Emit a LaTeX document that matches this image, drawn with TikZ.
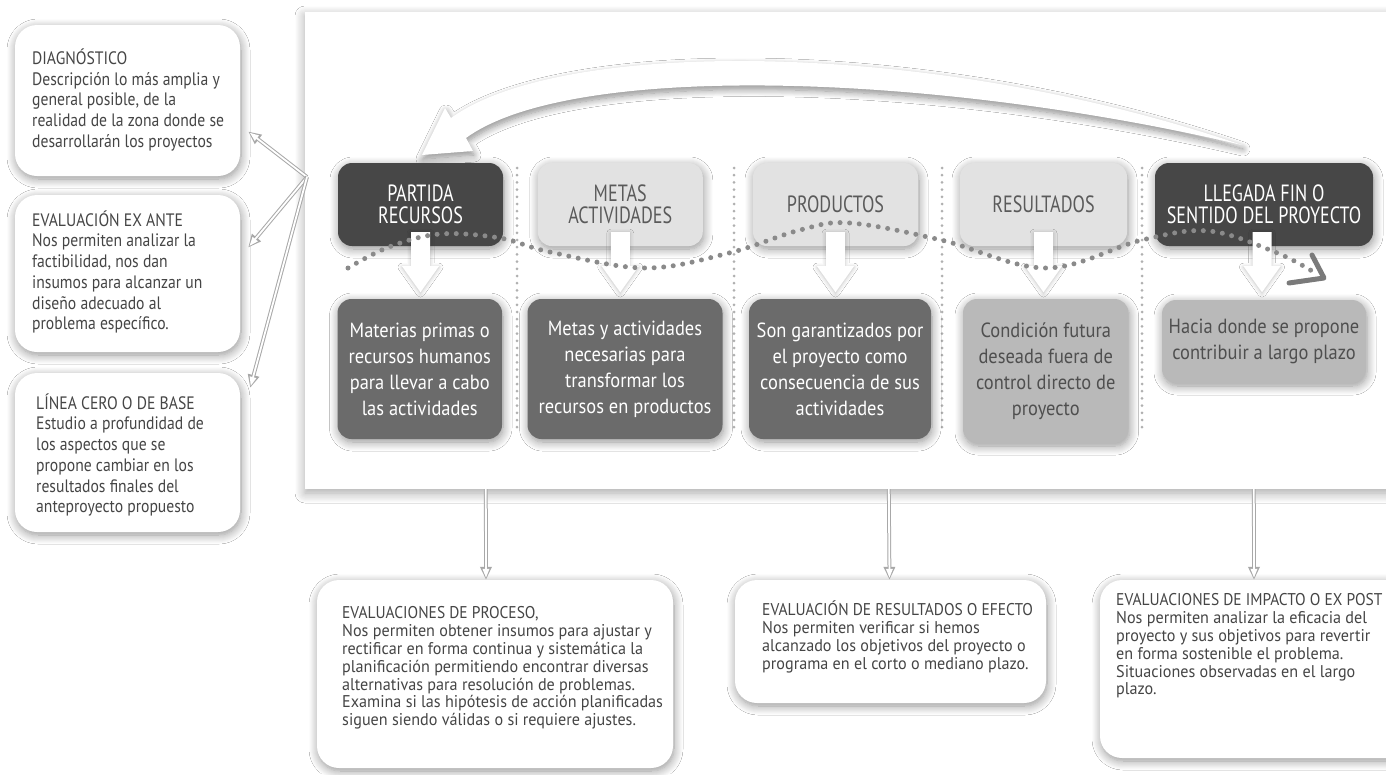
\documentclass[tikz,border=0pt]{standalone}
\usepackage{fontspec}
\setmainfont{PT Sans}[FakeStretch=0.9]
\newfontfamily\topfam{PT Sans}[FakeStretch=0.77]
\newfontfamily\midfam{PT Sans}[FakeStretch=0.90]
\newfontfamily\leftfam{PT Sans}[FakeStretch=0.87]
\newfontfamily\botfam{PT Sans}[FakeStretch=0.95]
\newfontfamily\bottitle{PT Sans}[FakeStretch=0.91]
\usetikzlibrary{shadows.blur,arrows.meta,calc}
\definecolor{cdark}{HTML}{474747}
\definecolor{clight}{HTML}{E2E2E2}
\definecolor{clighttext}{HTML}{5A5A5A}
\definecolor{cmid}{HTML}{6B6B6B}
\definecolor{cmidlight}{HTML}{B9B9B9}
\definecolor{cmidtext}{HTML}{4F4F4F}
\definecolor{ctext}{HTML}{454545}
\definecolor{cdots}{HTML}{8A8A8A}
\definecolor{csep}{HTML}{B0B0B0}
\definecolor{cout}{HTML}{A8A8A8}
\definecolor{cchev}{HTML}{7A7A7A}
\newcommand\fTop{\topfam\fontsize{23.5}{21.7}\selectfont}
\newcommand\fMid{\midfam\fontsize{20.5}{26}\selectfont}
\newcommand\fLeft{\leftfam\fontsize{18}{20.7}\selectfont}
\newcommand\fBot{\botfam\fontsize{17}{17.8}\selectfont}
\begin{document}
\begin{tikzpicture}[x=1pt,y=-1pt,
  softshadow/.style={blur shadow={shadow xshift=1pt,shadow yshift=-3pt,shadow blur radius=9pt,shadow opacity=42,shadow blur steps=10}},
  panelshadow/.style={blur shadow={shadow xshift=0pt,shadow yshift=-4pt,shadow blur radius=10pt,shadow opacity=35,shadow blur steps=10}},
  topdark/.style={rounded corners=14pt,fill=cdark,text=white,minimum height=83pt,font=\fTop,align=center,inner sep=0pt,softshadow},
  toplight/.style={rounded corners=14pt,fill=clight,text=clighttext,minimum height=83pt,font=\fTop,align=center,inner sep=0pt,softshadow},
  middark/.style={rounded corners=14pt,fill=cmid,text=white,minimum height=140pt,font=\fMid,align=center,inner sep=0pt,softshadow},
  midlight/.style={rounded corners=14pt,fill=cmidlight,text=cmidtext,minimum height=140pt,font=\fMid,align=center,inner sep=0pt,softshadow},
  wbox/.style={rounded corners=22pt,fill=white,inner sep=0pt,softshadow},
  ltext/.style={font=\fLeft,text=ctext,align=left,inner sep=0pt,anchor=west},
  btext/.style={font=\fBot,text=ctext,align=left,inner sep=0pt,anchor=west},
  thinarr/.style={draw=cout,line width=3.8pt,-{Triangle[length=13pt,width=11pt]},
     postaction={draw=white,line width=1.8pt,-{Triangle[length=9pt,width=6.5pt]},shorten >=2pt}},
  sepline/.style={draw=csep,line width=3pt,line cap=round,dash pattern=on 0pt off 7.2pt},
  wave/.style={draw=cdots,line width=5pt,line cap=round,dash pattern=on 0pt off 9.6pt},
  downarr/.pic={\fill[white,blur shadow={shadow xshift=0pt,shadow yshift=-1pt,shadow blur radius=4pt,shadow opacity=25}]
     (-9.5,0) -- (9.5,0) -- (9.5,34) -- (18.5,34) -- (0,60) -- (-18.5,34) -- (-9.5,34) -- cycle;}
]
\useasboundingbox (0,0) rectangle (1386,774);
\fill[white] (0,0) rectangle (1386,774);

% main panel
\node[fill=white,minimum width=1115pt,minimum height=477pt,inner sep=0pt,panelshadow] (panel) at (862.5,250.5) {};

% big curved arrow (from the end back to the start)
\fill[white,blur shadow={shadow xshift=1pt,shadow yshift=-4pt,shadow blur radius=7pt,shadow opacity=45,shadow blur steps=10}]
  (1242,145) .. controls (930,38) and (560,38) .. (451,118) -- (445,108) -- (422,155) -- (473,151) -- (466,138)
  .. controls (570,62) and (930,72) .. (1242,145) -- cycle;

% separators
\draw[sepline] (517,168) -- (517,432);
\draw[sepline] (734,168) -- (734,432);
\draw[sepline] (942,168) -- (942,432);
\draw[sepline] (1142,168) -- (1142,432);

% top row
\node[topdark,minimum width=165pt] (p1) at (420.5,204.5) {PARTIDA\\RECURSOS};
\node[toplight,minimum width=165pt] (p2) at (620.25,204.5) {METAS\\ACTIVIDADES};
\node[toplight,minimum width=165pt] (p3) at (835.5,204.5) {PRODUCTOS};
\node[toplight,minimum width=167pt] (p4) at (1043.5,204.5) {RESULTADOS};
\node[topdark,minimum width=218pt] (p5) at (1264,204.5) {LLEGADA FIN O\\SENTIDO DEL PROYECTO};

% second row
\node[middark,minimum width=164.5pt] (q1) at (419.75,369) {Materias primas o\\recursos humanos\\para llevar a cabo\\las actividades};
\node[middark,minimum width=195pt] (q2) at (625,369) {Metas y actividades\\necesarias para\\transformar los\\recursos en productos};
\node[middark,minimum width=182pt] (q3) at (840,369) {Son garantizados por\\el proyecto como\\consecuencia de sus\\actividades};
\node[midlight,minimum width=165.5pt,minimum height=144pt] (q4) at (1045.75,371) {Condición futura\\deseada fuera de\\control directo de\\proyecto};
\node[midlight,minimum width=204pt,minimum height=83pt] (q5) at (1264,341.5) {Hacia donde se propone\\contribuir a largo plazo};

% block arrows
\pic at ($(p1.south)+(0,-14)$) {downarr};
\pic at ($(p2.south)+(0,-14)$) {downarr};
\pic at ($(p3.south)+(0,-14)$) {downarr};
\pic at ($(p4.south)+(0,-14)$) {downarr};
\pic at ($(p5.south)+(-2,-14)$) {downarr};

% dotted wave
\draw[wave] plot[smooth,tension=0.6] coordinates {(348,268) (389,247) (440,234) (500,238) (550,252) (645,268) (729,253) (800,230) (850,223) (941,240) (1046,268) (1142,240) (1209,231) (1275,252) (1312,271)};
\draw[cchev,line width=5pt,line cap=round,line join=round] (1289,283) -- (1324,278) -- (1312,255);

% left boxes
\node[wbox,minimum width=225pt,minimum height=151pt] (d1) at (127.5,100.5) {};
\node[wbox,minimum width=225pt,minimum height=157pt] (d2) at (127.5,273.5) {};
\node[wbox,minimum width=225pt,minimum height=159pt] (d3) at (127.5,452.5) {};
\node[ltext] (d1t) at (32,100) {DIAGNÓSTICO\\Descripción lo más amplia y\\general posible, de la\\realidad de la zona donde se\\desarrollarán los proyectos};
\node[ltext] (d2t) at (32,272) {EVALUACIÓN EX ANTE\\Nos permiten analizar la\\factibilidad, nos dan\\insumos para alcanzar un\\diseño adecuado al\\problema específico.};
\node[ltext] (d3t) at (36,455) {LÍNEA CERO O DE BASE\\Estudio a profundidad de\\los aspectos que se\\propone cambiar en los\\resultados finales del\\anteproyecto propuesto};

% bottom boxes
\node[wbox,minimum width=356pt,minimum height=188pt] (e1) at (495,674) {};
\node[wbox,minimum width=311pt,minimum height=123pt] (e2) at (890.5,641.5) {};
\node[wbox,minimum width=308pt,minimum height=178pt] (e3) at (1254,669) {};
\node[btext] (e1t) at (342,668) {{\bottitle EVALUACIONES DE PROCESO,}\\Nos permiten obtener insumos para ajustar y\\rectificar en forma continua y sistemática la\\planificación permitiendo encontrar diversas\\alternativas para resolución de problemas.\\Examina si las hipótesis de acción planificadas\\siguen siendo válidas o si requiere ajustes.};
\node[btext] (e2t) at (762,637) {{\bottitle EVALUACIÓN DE RESULTADOS O EFECTO}\\Nos permiten verificar si hemos\\alcanzado los objetivos del proyecto o\\programa en el corto o mediano plazo.};
\node[btext] (e3t) at (1116,646) {{\bottitle EVALUACIONES DE IMPACTO O EX POST}\\Nos permiten analizar la eficacia del\\proyecto y sus objetivos para revertir\\en forma sostenible el problema.\\Situaciones observadas en el largo\\plazo.};

% thin arrows
\coordinate (o) at (307,177);
\draw[thinarr] (o) -- ($(d1.east)+(8,31)$);
\draw[thinarr] (o) -- ($(d2.east)+(8,-26)$);
\draw[thinarr] (o) -- ($(d3.north east)+(10,15)$);
\draw[thinarr] ($(panel.south west)+(181,0)$) -- ($(e1.north)+(-9,0)$);
\draw[thinarr] ($(panel.south west)+(584,0)$) -- ($(e2.north)+(-1,0)$);
\draw[thinarr] ($(panel.south west)+(949,0)$) -- ($(e3.north)+(0,0)$);
\end{tikzpicture}
\end{document}
